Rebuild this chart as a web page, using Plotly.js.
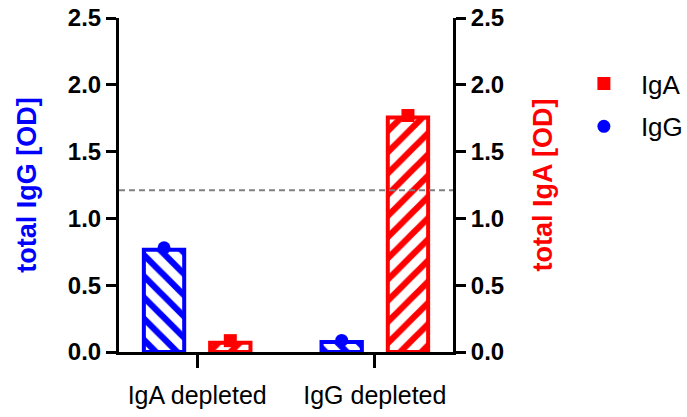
<!DOCTYPE html>
<html>
<head>
<meta charset="utf-8">
<script src="https://cdn.plot.ly/plotly-3.0.1.min.js"></script>
<style>html,body{margin:0;padding:0;background:#fff;}#chart{width:687px;height:417px;}</style>
</head>
<body>
<div id="chart"></div>
<script>
// ---- data ----
const categories = ['IgA depleted', 'IgG depleted'];
const iggBar = [0.765, 0.075];     // total IgG [OD], bar (mean)
const iggPoints = [0.78, 0.087];   // total IgG [OD], individual point
const igaBar = [0.07, 1.755];      // total IgA [OD], bar (mean)
const igaPoints = [0.085, 1.77];   // total IgA [OD], individual point
const cutoff = [1.21];             // dashed reference line
const yTicks = [0, 0.5, 1.0, 1.5, 2.0, 2.5];
const yTickText = ['0.0', '0.5', '1.0', '1.5', '2.0', '2.5'];

// ---- style ----
const BLUE = '#0000FF', RED = '#FF0000';
const FONT = 'Liberation Sans, Arial, sans-serif';
const barWidth = 0.227;
const iggOffset = -0.30;
const igaOffset = 0.073;
const idx = categories.map((c, i) => i);

const traces = [
  {
    type: 'bar', x: idx, y: iggBar, yaxis: 'y', xaxis: 'x',
    width: barWidth, offset: iggOffset, showlegend: false, hoverinfo: 'skip',
    marker: {color: '#ffffff', line: {color: BLUE, width: 4},
      pattern: {shape: '\\', fgcolor: BLUE, bgcolor: '#ffffff', size: 15, solidity: 0.42, fillmode: 'replace'}}
  },
  {
    type: 'bar', x: idx, y: igaBar, yaxis: 'y2', xaxis: 'x',
    width: barWidth, offset: igaOffset, showlegend: false, hoverinfo: 'skip',
    marker: {color: '#ffffff', line: {color: RED, width: 4},
      pattern: {shape: '/', fgcolor: RED, bgcolor: '#ffffff', size: 15, solidity: 0.42, fillmode: 'replace'}}
  },
  {
    type: 'scatter', mode: 'markers', name: 'IgA', legendgroup: 'a',
    x: idx.map(i => i + igaOffset + barWidth / 2), y: igaPoints, yaxis: 'y2',
    marker: {symbol: 'square', color: RED, size: 13}
  },
  {
    type: 'scatter', mode: 'markers', name: 'IgG', legendgroup: 'g',
    x: idx.map(i => i + iggOffset + barWidth / 2), y: iggPoints, yaxis: 'y',
    marker: {symbol: 'circle', color: BLUE, size: 13}
  }
];

const layout = {
  width: 687, height: 417,
  margin: {l: 119, r: 234, t: 18, b: 65, autoexpand: false},
  paper_bgcolor: '#ffffff', plot_bgcolor: '#ffffff',
  font: {family: FONT, color: '#000'},
  showlegend: true,
  barmode: 'overlay',
  xaxis: {
    range: [-0.44, 1.44], tickvals: idx, ticktext: categories, automargin: false,
    showgrid: false, zeroline: false, showline: true, linewidth: 3, linecolor: '#000',
    ticks: 'outside', ticklen: 13, tickwidth: 3, tickcolor: '#000',
    tickfont: {size: 25, family: FONT, color: '#000'}, ticklabelstandoff: 6
  },
  yaxis: {
    range: [0, 2.5], tickvals: yTicks, ticktext: yTickText, automargin: false,
    showgrid: false, zeroline: false, showline: true, linewidth: 3, linecolor: '#000',
    ticks: 'outside', ticklen: 10, tickwidth: 3, tickcolor: '#000',
    tickfont: {size: 24, family: FONT, color: '#000', weight: 'bold'},
    title: {text: 'total IgG [OD]', font: {size: 27, family: FONT, color: BLUE, weight: 'bold'}, standoff: 24}
  },
  yaxis2: {
    range: [0, 2.5], tickvals: yTicks, ticktext: yTickText, automargin: false,
    overlaying: 'y', side: 'right',
    showgrid: false, zeroline: false, showline: true, linewidth: 3, linecolor: '#000',
    ticks: 'outside', ticklen: 10, tickwidth: 3, tickcolor: '#000',
    tickfont: {size: 24, family: FONT, color: '#000', weight: 'bold'},
    title: {text: 'total IgA [OD]', font: {size: 27, family: FONT, color: RED, weight: 'bold'}, standoff: 30}
  },
  legend: {
    x: 1.341, xanchor: 'left', y: 0.874, yanchor: 'top',
    font: {size: 26, family: FONT, color: '#000'},
    itemwidth: 64, tracegroupgap: 6, bgcolor: 'rgba(0,0,0,0)'
  },
  shapes: [{
    type: 'line', xref: 'paper', x0: 0, x1: 1, yref: 'y', y0: cutoff[0], y1: cutoff[0],
    line: {color: '#808080', width: 2, dash: '6px,4px'}, layer: 'above'
  }]
};

Plotly.newPlot('chart', traces, layout, {displayModeBar: false, staticPlot: true});
</script>
</body>
</html>
